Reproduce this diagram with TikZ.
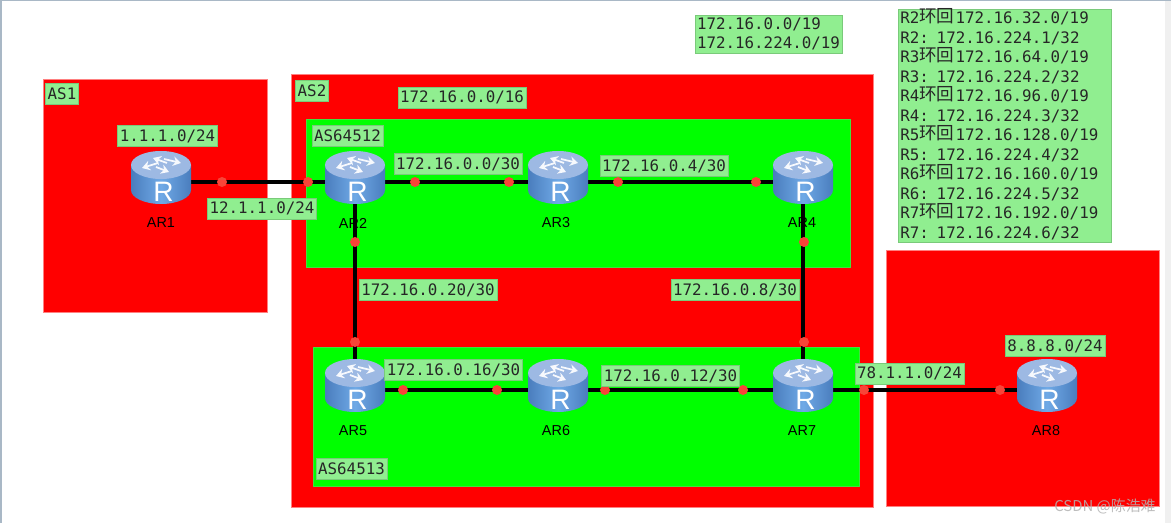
\documentclass[tikz,border=0pt]{standalone}
\usepackage{fontspec}
\usepackage{xcolor}
\setsansfont{Liberation Sans}
\setmonofont{DejaVu Sans Mono}
\newfontfamily\cjkfont{Noto Sans CJK SC}
\usetikzlibrary{arrows.meta, calc}
\definecolor{asred}{HTML}{FF0000}
\definecolor{asedge}{HTML}{FF8080}
\definecolor{subgreen}{HTML}{00FF00}
\definecolor{subedge}{HTML}{40E040}
\definecolor{notegreen}{HTML}{90EE90}
\definecolor{portred}{HTML}{F84438}
\definecolor{routertop}{HTML}{9DB9E3}
\definecolor{routerside}{HTML}{6FA9E6}
\definecolor{routeredge}{HTML}{4A7DBD}
\definecolor{framegrey}{HTML}{A9B8C6}
\newcommand{\hui}{\smash{\raisebox{1pt}{\cjkfont\fontsize{10}{11}\selectfont 环回}}\hspace{0.6pt}}
\tikzset{
  asbox/.style={fill=asred, draw=asedge, line width=0.4pt},
  subbox/.style={fill=subgreen, draw=subedge, line width=0.3pt},
  netlabel/.style={fill=notegreen, draw=notegreen!85!black, line width=0.2pt, text=black!85,
    font=\ttfamily\fontsize{9}{11}\selectfont, inner xsep=1.3pt, inner ysep=0pt,
    minimum height=0.42cm},
  noteblock/.style={netlabel, align=left, inner ysep=1.5pt,
    font=\ttfamily\fontsize{9}{11.1}\selectfont},
  routerbox/.style={minimum width=1.2cm, minimum height=0.88cm, inner sep=0pt},
  routertext/.style={font=\sffamily\fontsize{8.2}{10}\selectfont, text=black, inner sep=0pt},
  linkline/.style={draw=black, line width=2pt},
  portdot/.style={circle, fill=portred, minimum size=0.2cm, inner sep=0pt},
  pics/routericon/.style={code={
    % body first, then the lid
    \shade[left color=routeredge, right color=routeredge, middle color=routerside]
      (-30,-17) -- (-30,8) arc[start angle=180, end angle=0, x radius=30, y radius=14]
      -- (30,-17) -- cycle;
    \fill[routertop] (0,-17) ellipse[x radius=30, y radius=14];
    \foreach \ax/\ay/\bx/\by in {6/-19/-8/-24, 3/-23/20/-19, -3/-19/-19/-14, -5/-15/8/-10}
      \draw[white!92!routertop, line width=1pt, -{Stealth[length=4.5pt,width=5.5pt]}] (\ax,\ay) -- (\bx,\by);
    \node[text=white, font=\sffamily\fontsize{16}{16}\selectfont, inner sep=0pt] at (2.5,10) {R};
  }}
}
\begin{document}
\begin{tikzpicture}[x=0.02cm, y=-0.02cm]
  \useasboundingbox (0,0) rectangle (1171,523);
  \fill[white] (0,0) rectangle (1171,523);
  % window edges
  \fill[framegrey] (0,0) rectangle (1171,1);
  \fill[framegrey] (0,0) rectangle (2,523);
  \fill[black!6] (1165,1) rectangle (1171,523);

  % AS areas
  \draw[asbox] (43,79) rectangle (267,312);
  \draw[asbox] (291,74) rectangle (873,507);
  \draw[asbox] (886,250) rectangle (1159,506);
  \draw[subbox] (306,119) rectangle (850,267);
  \draw[subbox] (313,347) rectangle (859,486);

  % routers, centred on their link height
  \foreach \name/\xx/\yy in {
      AR1/161/182,
      AR2/355/182,
      AR3/558/182,
      AR4/803/182,
      AR5/355/390,
      AR6/558/390,
      AR7/803/390,
      AR8/1047/390}
  {
    \node[routerbox] (\name) at (\xx,\yy) {};
  }

  % links
  \foreach \from/\to in {AR1/AR2, AR2/AR3, AR3/AR4, AR5/AR6, AR6/AR7, AR7/AR8, AR2/AR5, AR4/AR7}
  {
    \draw[linkline] (\from) -- (\to);
  }

  % interface dots
  \foreach \i/\xx/\yy in {
      1/222/182, 2/308/182, 3/415/182, 4/509/182, 5/618/182, 6/756/182,
      7/403/390, 8/497/390, 9/605/390, 10/743/390, 11/864/390, 12/1000/390,
      13/355/242, 14/355/342, 15/804/242, 16/804/342}
  {
    \node[portdot] (port\i) at (\xx,\yy) {};
  }

  \foreach \name/\tx/\ty in {
      AR1/161/223,
      AR2/353/223,
      AR3/556/223,
      AR4/802/223,
      AR5/353/431,
      AR6/556/431,
      AR7/802/431,
      AR8/1046/431}
  {
    \pic at (\name) {routericon};
    \node[routertext] (\name text) at (\tx,\ty) {\name};
  }

  % green labels
  \foreach \i/\xx/\yy/\txt in {
      1/62/93.5/AS1,
      2/312/91/AS2,
      3/347.5/136/AS64512,
      4/351.5/469/AS64513,
      5/167.5/136/{1.1.1.0/24},
      6/262/208.5/{12.1.1.0/24},
      7/462/97.5/{172.16.0.0/16},
      8/458/164/{172.16.0.0/30},
      9/664/166/{172.16.0.4/30},
      10/428/290/{172.16.0.20/30},
      11/735/290/{172.16.0.8/30},
      12/453.5/370/{172.16.0.16/30},
      13/670.5/376/{172.16.0.12/30},
      14/909.5/373.5/{78.1.1.0/24},
      15/1055/346/{8.8.8.0/24}}
  {
    \node[netlabel] (net\i) at (\xx,\yy) {\txt};
  }

  \node[noteblock] (summary) at (768.5,34)
    {172.16.0.0/19\\172.16.224.0/19};
  \node[noteblock, text width=4.17cm] (loopback) at (1004.5,126)
    {R2\hui 172.16.32.0/19\\
     R2: 172.16.224.1/32\\
     R3\hui 172.16.64.0/19\\
     R3: 172.16.224.2/32\\
     R4\hui 172.16.96.0/19\\
     R4: 172.16.224.3/32\\
     R5\hui 172.16.128.0/19\\
     R5: 172.16.224.4/32\\
     R6\hui 172.16.160.0/19\\
     R6: 172.16.224.5/32\\
     R7\hui 172.16.192.0/19\\
     R7: 172.16.224.6/32};

  \node[text=black!30, opacity=0.85, inner sep=0pt, anchor=east,
        font=\cjkfont\fontsize{8.5}{11}\selectfont] (mark) at (1156,506) {CSDN @陈浩难};
\end{tikzpicture}
\end{document}
